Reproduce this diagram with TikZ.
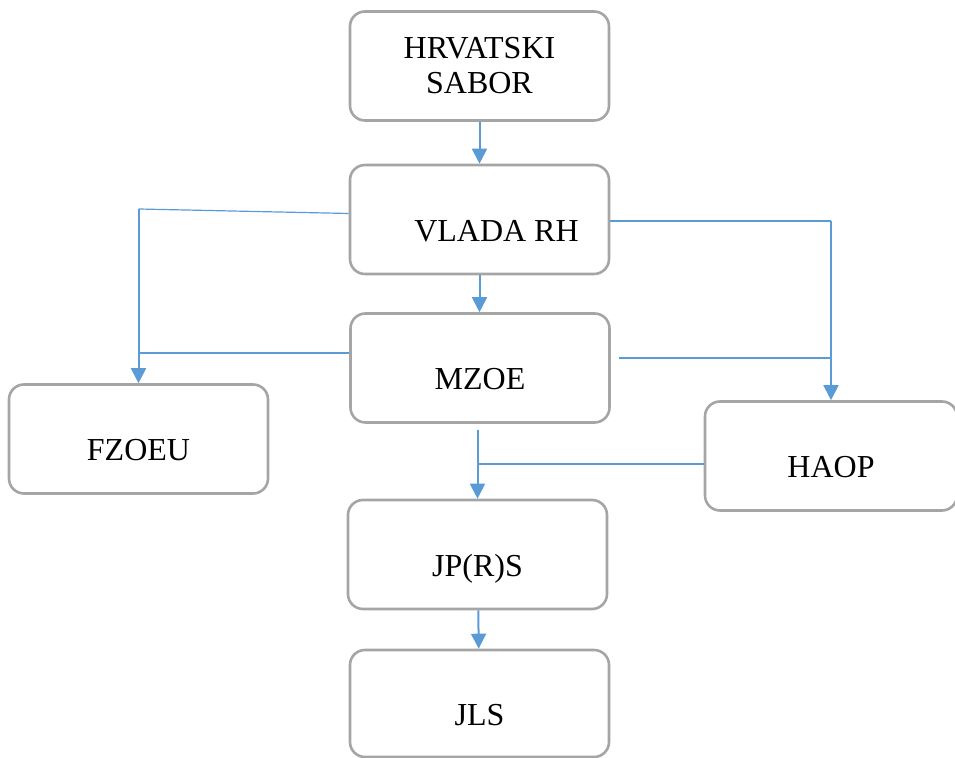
\documentclass[tikz,border=0pt]{standalone}
\usepackage{fontspec}
\setmainfont{Liberation Serif}
\usepackage{tikz}
\usetikzlibrary{arrows.meta}
\usetikzlibrary{calc}
\definecolor{boxgray}{HTML}{A5A5A5}
\definecolor{linkblue}{HTML}{5B9BD5}
\tikzset{b/.style={draw=boxgray,line width=1.3pt,rounded corners=7.5pt,minimum width=129.5pt,minimum height=54.5pt,font=\fontsize{16}{17.5}\selectfont,text height=21.6pt,text depth=0pt}}
\tikzset{a/.style={linkblue,line width=1pt,-{Triangle[length=7.5pt,width=7.5pt]}}}
\tikzset{t/.style={linkblue,line width=0.6pt}}

\begin{document}
\begin{tikzpicture}[x=0.5pt,y=-0.5pt]
        \useasboundingbox (0,0) rectangle (955,758);
        \node[b,align=center,text height=,text depth=] (sabor) at (479.5,66) {HRVATSKI\\SABOR};
        \node[b] (vlada) at (479.5,219.5) {\hspace*{17pt}VLADA RH};
        \node[b] (mzoe) at (480,368) {MZOE};
        \node[b] (fzoeu) at (138.5,439) {FZOEU};
        \node[b,minimum width=126pt] (haop) at (831,456) {HAOP};
        \node[b] (jprs) at (477.5,554.5) {JP(R)S};
        \node[b,minimum height=53.5pt] (jls) at (479.5,703.5) {JLS};
        \coordinate (fl) at (138.5,209);
        \coordinate (fr) at (831,221);
        \coordinate (mt) at (477.5,430);
        \coordinate (hj) at (477.5,464);
        \draw[a] (sabor) -- (vlada);
        \draw[a] (vlada.south) -- (vlada.south |- mzoe.north);
        \draw[t] ([yshift=3pt]vlada.west) -- (fl);
        \draw[a] (fl) -- (fzoeu.north);
        \draw[t] ([yshift=7.5pt]mzoe.west) -- ($(mzoe.west -| fl)+(0,-15)$);
        \draw[t] ([yshift=-0.75pt]vlada.east) -- (fr);
        \draw[a] (fr) -- (haop.north);
        \draw[t] ([xshift=4pt,yshift=5pt]mzoe.east) -- ($(mzoe.east -| fr)+(0,-10)$);
        \draw[a] (mt) -- (jprs.north);
        \draw[t] (haop.west |- hj) -- (hj);
        \draw[a] (jprs) -- (jls);
      \end{tikzpicture}
\end{document}
